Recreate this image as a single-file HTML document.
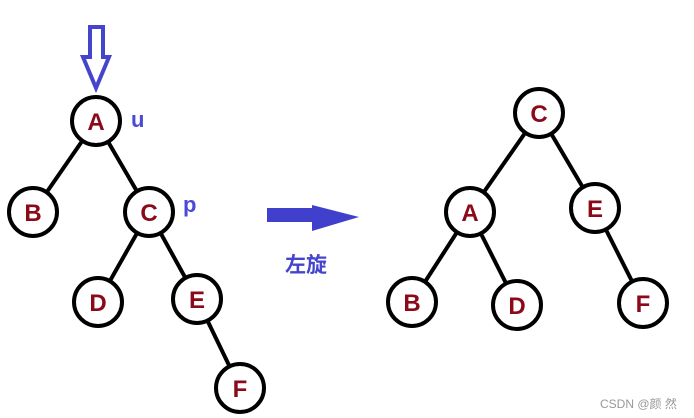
<!DOCTYPE html>
<html><head><meta charset="utf-8"><style>
html,body{margin:0;padding:0;background:#fff;width:694px;height:418px;overflow:hidden}
</style></head><body>
<svg width="694" height="418" viewBox="0 0 694 418" xmlns="http://www.w3.org/2000/svg">
<g stroke="#000" stroke-width="4" fill="none">
<line x1="96" y1="121" x2="33" y2="212"/>
<line x1="96" y1="121" x2="149" y2="212"/>
<line x1="149" y1="212" x2="98" y2="302"/>
<line x1="149" y1="212" x2="197" y2="299"/>
<line x1="197" y1="299" x2="240" y2="388"/>
<line x1="539" y1="113" x2="470" y2="212"/>
<line x1="539" y1="113" x2="595" y2="208"/>
<line x1="470" y1="212" x2="412" y2="302"/>
<line x1="470" y1="212" x2="517" y2="305"/>
<line x1="595" y1="208" x2="643" y2="303"/>
</g>
<g stroke="#000" stroke-width="4" fill="#fff">
<circle cx="96" cy="121" r="24"/><circle cx="33" cy="212" r="24"/><circle cx="149" cy="212" r="24"/>
<circle cx="98" cy="302" r="24"/><circle cx="197" cy="299" r="24"/><circle cx="240" cy="388" r="24"/>
<circle cx="539" cy="113" r="24"/><circle cx="470" cy="212" r="24"/><circle cx="595" cy="208" r="24"/>
<circle cx="412" cy="302" r="24"/><circle cx="517" cy="305" r="24"/><circle cx="643" cy="303" r="24"/>
</g>
<g font-family="Liberation Sans, sans-serif" font-weight="bold" font-size="24" fill="#8b0a1a" text-anchor="middle">
<text x="96" y="130">A</text><text x="33" y="221">B</text><text x="149" y="221">C</text>
<text x="98" y="311">D</text><text x="197" y="308">E</text><text x="240" y="397">F</text>
<text x="539" y="122">C</text><text x="470" y="221">A</text><text x="595" y="217">E</text>
<text x="412" y="311">B</text><text x="517" y="314">D</text><text x="643" y="312">F</text>
</g>
<g font-family="Liberation Sans, sans-serif" font-weight="bold" font-size="22" fill="#4a4ad6">
<text x="131" y="127">u</text><text x="183" y="212">p</text>
</g>
<polygon points="90,27 103,27 103,57 109,57 96,88 83,57 90,57" fill="none" stroke="#4444cc" stroke-width="4" stroke-linejoin="miter"/>
<polygon points="267,208 312,208 312,205 359,217 312,231 312,222 267,222" fill="#4040cc"/>
<text x="306" y="272" font-family="Liberation Sans, Noto Sans CJK SC, sans-serif" font-weight="bold" font-size="21" fill="#4444cc" text-anchor="middle">左旋</text>
<text x="600" y="408" font-family="Liberation Sans, Noto Sans CJK SC, sans-serif" font-size="12" fill="#999">CSDN @颜 然</text>
</svg>
</body></html>
